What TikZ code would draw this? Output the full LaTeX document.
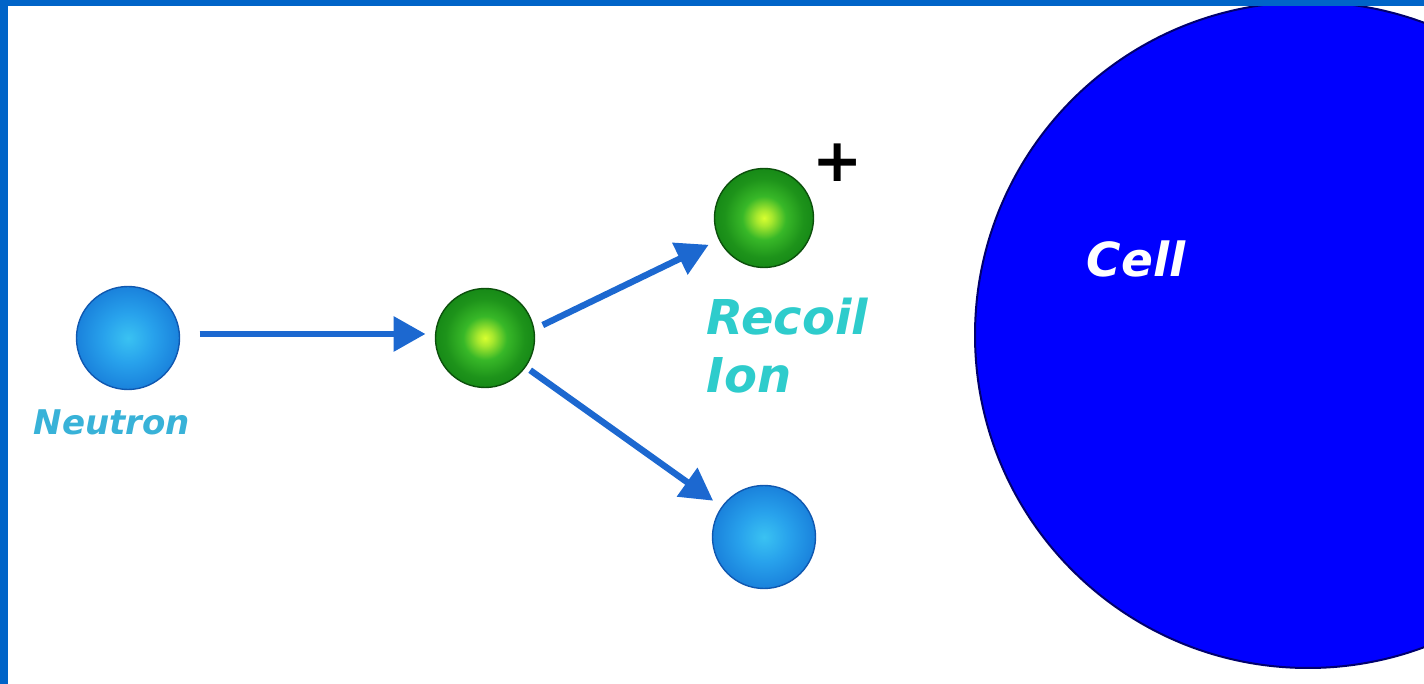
\documentclass[tikz,border=0pt]{standalone}
\usepackage{fontspec}
\setmainfont{DejaVu Sans}
\usetikzlibrary{arrows.meta,positioning}

\definecolor{slideblue}{HTML}{0064C8}
\definecolor{cellblue}{HTML}{0000FF}
\definecolor{cellrim}{HTML}{00006E}
\definecolor{arrowblue}{HTML}{1C68D0}
\definecolor{ionteal}{HTML}{2ECCCC}
\definecolor{neutteal}{HTML}{38B2D8}
\definecolor{greenrim}{HTML}{0C500C}
\definecolor{bluerim}{HTML}{1058B0}
\definecolor{greencore}{HTML}{D8FF30}
\definecolor{greenglow}{HTML}{A8E82E}
\definecolor{greenmid}{HTML}{38B828}
\definecolor{greenedge}{HTML}{178A17}
\definecolor{bluecore}{HTML}{3AC2F2}
\definecolor{bluemid}{HTML}{28A2EC}
\definecolor{blueedge}{HTML}{1A82DC}

\pgfdeclareradialshading{greenball}{\pgfpoint{0bp}{0bp}}{%
  color(0bp)=(greencore); color(4bp)=(greenglow); color(11bp)=(greenmid);
  color(20bp)=(greenedge!80!greenmid); color(25bp)=(greenedge); color(50bp)=(greenedge)}
\pgfdeclareradialshading{blueball}{\pgfpoint{0bp}{0bp}}{%
  color(0bp)=(bluecore); color(12bp)=(bluemid);
  color(25bp)=(blueedge); color(50bp)=(blueedge)}

\tikzset{x=0.5pt, y=0.5pt,
  ball/.style={circle, inner sep=0pt, outer sep=0pt, line width=0.7pt},
  greenball/.style={ball, minimum size=49.5pt, shading=greenball, draw=greenrim},
  blueball/.style={ball, minimum size=51.5pt, shading=blueball, draw=bluerim},
  move/.style={arrowblue, line width=3.2pt, -{Triangle[length=16pt,width=17pt]}},
  tag/.style={font=\bfseries\itshape, inner sep=0pt}}

\begin{document}
\begin{tikzpicture}
    \useasboundingbox (0,0) rectangle (1424,684);
    \clip (0,0) rectangle (1424,684);
    \fill[slideblue] (0,0) rectangle (1424,684);
    \fill[white] (8,0) rectangle (1424,678);
    % the cell
    \node[circle, minimum size=333pt, inner sep=0pt, fill=cellblue, draw=cellrim, line width=1pt] (cell) at (1308,349) {};
    \node[tag, text=white, font=\fontsize{23.5}{28}\selectfont\bfseries\itshape] (celllbl) at (1136,425) {Cell};
    \fill[slideblue] (0,678) rectangle (1424,684);
    % collision
    \node[blueball] (neutron) at (128,346) {};
    \node[greenball] (target) at (485,346) {};
    \node[greenball] (ion) at (764,466) {};
    \node[blueball] (scatter) at (764,147) {};
    \draw[move, shorten <=10pt, shorten >=5pt] ([yshift=2pt]neutron.east) -- ([yshift=2pt]target.west);
    \draw[move, shorten <=5pt, shorten >=6pt] (target.10) -- (ion);
    \draw[move, shorten <=3pt, shorten >=5.5pt] (target) -- (scatter);
    \node[tag, text=neutteal, font=\fontsize{17}{20}\selectfont\bfseries\itshape, below=10pt of neutron, xshift=-8pt] (neutronlbl) {Neutron};
    \node[tag, text=ionteal, font=\fontsize{24}{29}\selectfont\bfseries\itshape, align=left, anchor=north west] (ionlbl) at (706,386) {Recoil\\Ion};
    \node[inner sep=0pt, font=\fontsize{30}{30}\selectfont\bfseries] (charge) at (838,521) {+};
\end{tikzpicture}
\end{document}
